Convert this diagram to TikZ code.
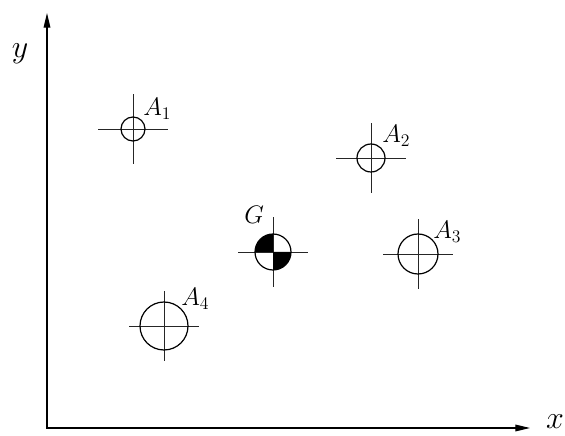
\documentclass[tikz,border=0pt]{standalone}
\usepackage{fix-cm}
\usetikzlibrary{arrows.meta,calc}
\begin{document}
\begin{tikzpicture}[
  x=0.75pt, y=0.75pt,
  axis/.style={line width=0.9pt,{Triangle[length=11pt,width=5pt]}-{Triangle[length=11pt,width=5pt]}},
  hole/.style={line width=0.9pt},
  cross/.style={black!85,line width=0.5pt},
  axlbl/.style={font=\fontsize{24}{28}\selectfont,inner sep=0pt},
  lbl/.style={font=\fontsize{19}{22}\selectfont,inner sep=0pt,anchor=base west}
]
  \useasboundingbox (0,0) rectangle (565,436);
  \coordinate (O)    at (47,8);
  \coordinate (xend) at (530,8);
  \coordinate (yend) at (47,423);
  \coordinate (A1) at (133,307);
  \coordinate (A2) at (371,278);
  \coordinate (G)  at (273,184);
  \coordinate (A3) at (418,182);
  \coordinate (A4) at (164,110);

  \draw[axis] (yend) -- (O) -- (xend);
  \node[axlbl] (ylab) at (20,382) {$y$};
  \node[axlbl] (xlab) at (555,14) {$x$};

  % crosshairs
  \draw[cross] ($(A1)+(-35,0)$) -- ($(A1)+(35,0)$);
  \draw[cross] ($(A1)+(0,-35)$) -- ($(A1)+(0,35)$);
  \draw[cross] ($(A2)+(-35,0)$) -- ($(A2)+(35,0)$);
  \draw[cross] ($(A2)+(0,-35)$) -- ($(A2)+(0,35)$);
  \draw[cross] ($(G)+(-35,0)$) -- ($(G)+(35,0)$);
  \draw[cross] ($(G)+(0,-35)$) -- ($(G)+(0,35)$);
  \draw[cross] ($(A3)+(-35,0)$) -- ($(A3)+(35,0)$);
  \draw[cross] ($(A3)+(0,-35)$) -- ($(A3)+(0,35)$);
  \draw[cross] ($(A4)+(-35,0)$) -- ($(A4)+(35,0)$);
  \draw[cross] ($(A4)+(0,-35)$) -- ($(A4)+(0,35)$);

  % holes
  \draw[hole] (A1) circle[radius=12];
  \draw[hole] (A2) circle[radius=14];
  \draw[hole] (A3) circle[radius=20];
  \draw[hole] (A4) circle[radius=24];
  \fill (G) -- ++(180:18) arc[start angle=180,end angle=90,radius=18] -- cycle;
  \fill (G) -- ++(0:18) arc[start angle=0,end angle=-90,radius=18] -- cycle;
  \draw[hole] (G) circle[radius=18];

  \node[lbl] (lA1) at (143,320) {$A_1$};
  \node[lbl] (lA2) at (382,293) {$A_2$};
  \node[lbl] (lG)  at (244,212) {$G$};
  \node[lbl] (lA3) at (433,197) {$A_3$};
  \node[lbl] (lA4) at (181,130) {$A_4$};
\end{tikzpicture}
\end{document}
